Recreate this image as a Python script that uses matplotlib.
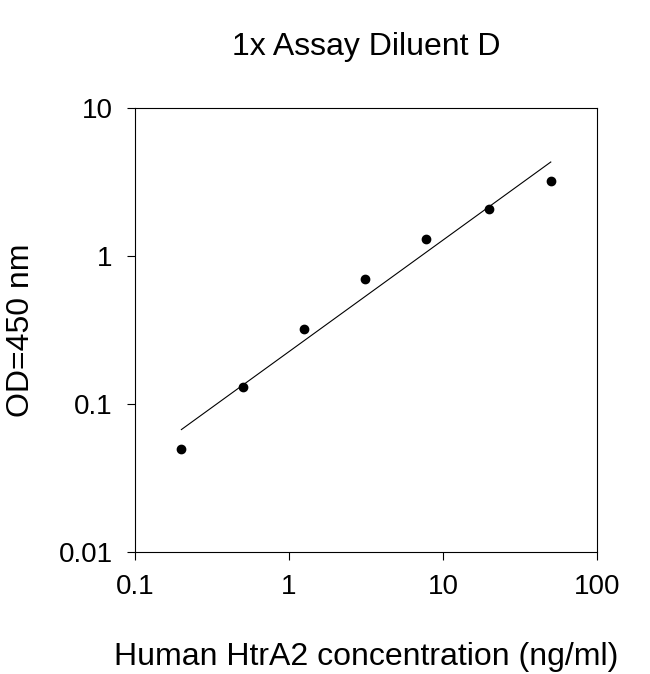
import numpy as np
import matplotlib.pyplot as plt
from matplotlib.ticker import FixedLocator, FixedFormatter, NullLocator

conc = [0.2, 0.5, 1.25, 3.125, 7.8, 20, 50]
od = [0.05, 0.13, 0.32, 0.70, 1.30, 2.08, 3.21]

plt.rcParams['font.family'] = ['Liberation Sans', 'DejaVu Sans']

fig = plt.figure(figsize=(6.5, 6.74), dpi=100)
ax = fig.add_axes([0.2077, 0.181, 0.711, 0.659])

# log-log linear fit
k, b = np.polyfit(np.log10(conc), np.log10(od), 1)
xf = np.array([conc[0], conc[-1]])
ax.plot(xf, 10 ** (k * np.log10(xf) + b), color='black', lw=0.8)
ax.scatter(conc, od, color='black', s=36, zorder=3)

ax.set_xscale('log')
ax.set_yscale('log')
ax.set_xlim(0.1, 100)
ax.set_ylim(0.01, 10)
xt = [0.1, 1, 10, 100]
yt = [0.01, 0.1, 1, 10]
ax.xaxis.set_major_locator(FixedLocator(xt))
ax.xaxis.set_major_formatter(FixedFormatter(['0.1', '1', '10', '100']))
ax.yaxis.set_major_locator(FixedLocator(yt))
ax.yaxis.set_major_formatter(FixedFormatter(['0.01', '0.1', '1', '10']))
ax.xaxis.set_minor_locator(NullLocator())
ax.yaxis.set_minor_locator(NullLocator())
ax.tick_params(direction='out', length=6, labelsize=20, pad=10)
for s in ax.spines.values():
    s.set_linewidth(0.8)

ax.set_title('1x Assay Diluent D', fontsize=23, pad=38)
ax.set_xlabel('Human HtrA2 concentration (ng/ml)', fontsize=23, labelpad=30)
ax.set_ylabel('OD=450 nm', fontsize=23, labelpad=16)

fig.savefig('out.png', dpi=100)
